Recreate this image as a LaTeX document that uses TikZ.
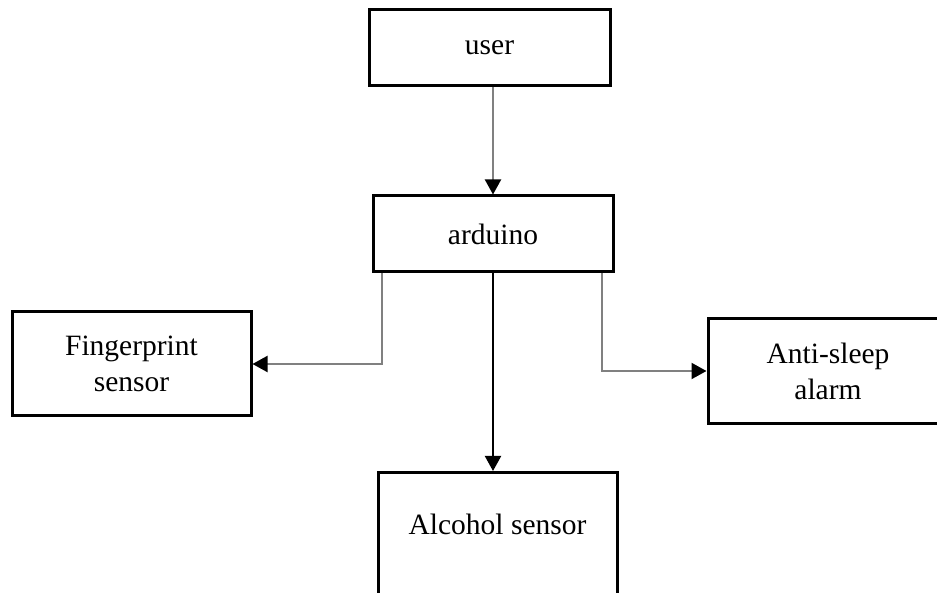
\documentclass[tikz,border=0pt]{standalone}
\usepackage{fontspec}
\setmainfont{Liberation Serif}
\usetikzlibrary{arrows.meta}

\tikzset{
  block/.style={draw=black,line width=3pt,inner sep=0pt,align=center,
    font=\fontsize{29.5}{36}\selectfont},
  conn/.style={line width=2pt,-{Triangle[length=15pt,width=16pt,black]}},
}

\begin{document}
\begin{tikzpicture}[x=1pt,y=1pt]
  \clip (0,0) rectangle (937,592);

  \node[block,minimum width=241pt,minimum height=76pt] (user) at (489.5,544) {user};
  \node[block,minimum width=240pt,minimum height=76pt] (arduino) at (493,358) {arduino};
  \node[block,minimum width=239pt,minimum height=104pt] (finger) at (131.5,228) {Fingerprint\\sensor};
  \node[block,minimum width=240pt,minimum height=105pt] (alarm) at (828,221) {Anti-sleep\\alarm};
  \node[block,anchor=north,minimum width=239pt,text height=62pt,text depth=100pt] (alcohol) at (497.5,121) {Alcohol sensor};

  \draw[conn,draw=gray] (user.south -| arduino.north) -- (arduino.north);
  \draw[conn,draw=gray] ([xshift=10pt]arduino.south west) |- (finger.east);
  \draw[conn,draw=gray] ([xshift=-13pt]arduino.south east) |- (alarm.west);
  \draw[conn,draw=black] (arduino.south) -- (arduino.south |- alcohol.north);
\end{tikzpicture}
\end{document}
